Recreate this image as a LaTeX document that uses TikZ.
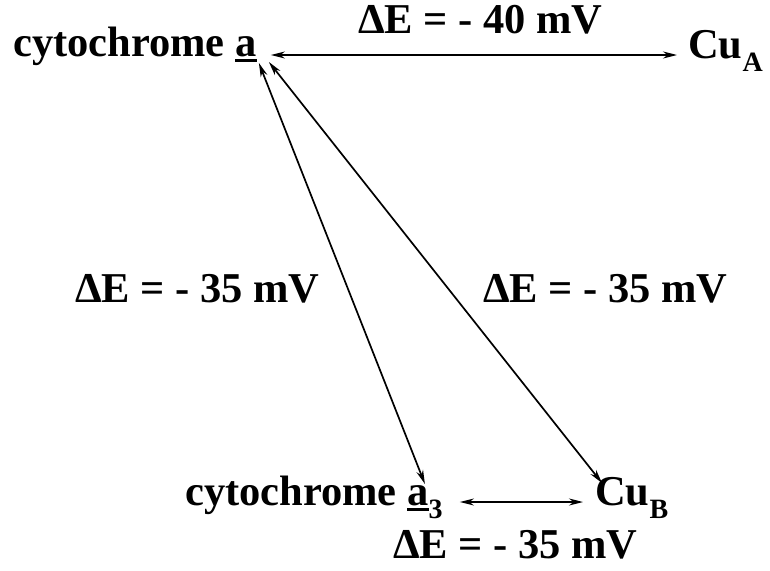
\documentclass[tikz,border=0pt]{standalone}
\usepackage{fontspec}
\setmainfont{Liberation Serif}
\usetikzlibrary{arrows.meta}
\newcommand\ulletter[1]{\setbox0\hbox{#1}\rlap{\rule[-6pt]{\wd0}{3.5pt}}\box0}
\newcommand\subtxt[1]{\raisebox{-13pt}{\fontsize{28}{28}\selectfont\bfseries #1}}
\begin{document}
\begin{tikzpicture}[x=1pt,y=-1pt,
  lbl/.style={font=\fontsize{42.5}{50}\selectfont\bfseries, inner sep=0pt, anchor=base west},
  conn/.style={line width=1.7pt, {Stealth[length=14pt,width=7pt]}-{Stealth[length=14pt,width=7pt]}}]
\useasboundingbox (0,0) rectangle (770,570);
\node[lbl] (ca) at (13,56) {cytochrome \ulletter{a}};
\node[lbl] (cua) at (688,58) {Cu\subtxt{A}};
\node[lbl] (ca3) at (185,505) {cytochrome \ulletter{a}\subtxt{3}};
\node[lbl] (cub) at (595,505) {Cu\subtxt{B}};
\node[lbl] (ltop) at (358,33) {ΔE = - 40 mV};
\node[lbl] (lleft) at (75,302) {ΔE = - 35 mV};
\node[lbl] (lright) at (483,302) {ΔE = - 35 mV};
\node[lbl] (lbot) at (393,558) {ΔE = - 35 mV};
\draw[conn] ([shift={(14,-1)}]ca.base east) -- ([shift={(-11,-3)}]cua.base west);
\draw[conn] ([shift={(2,7)}]ca.base east) -- ([shift={(-18,-21)}]ca3.base east);
\draw[conn] ([shift={(12,6)}]ca.base east) -- ([shift={(7,-22)}]cub.base west);
\draw[conn] ([shift={(17,-3)}]ca3.base east) -- ([shift={(-12,-3)}]cub.base west);
\end{tikzpicture}
\end{document}
